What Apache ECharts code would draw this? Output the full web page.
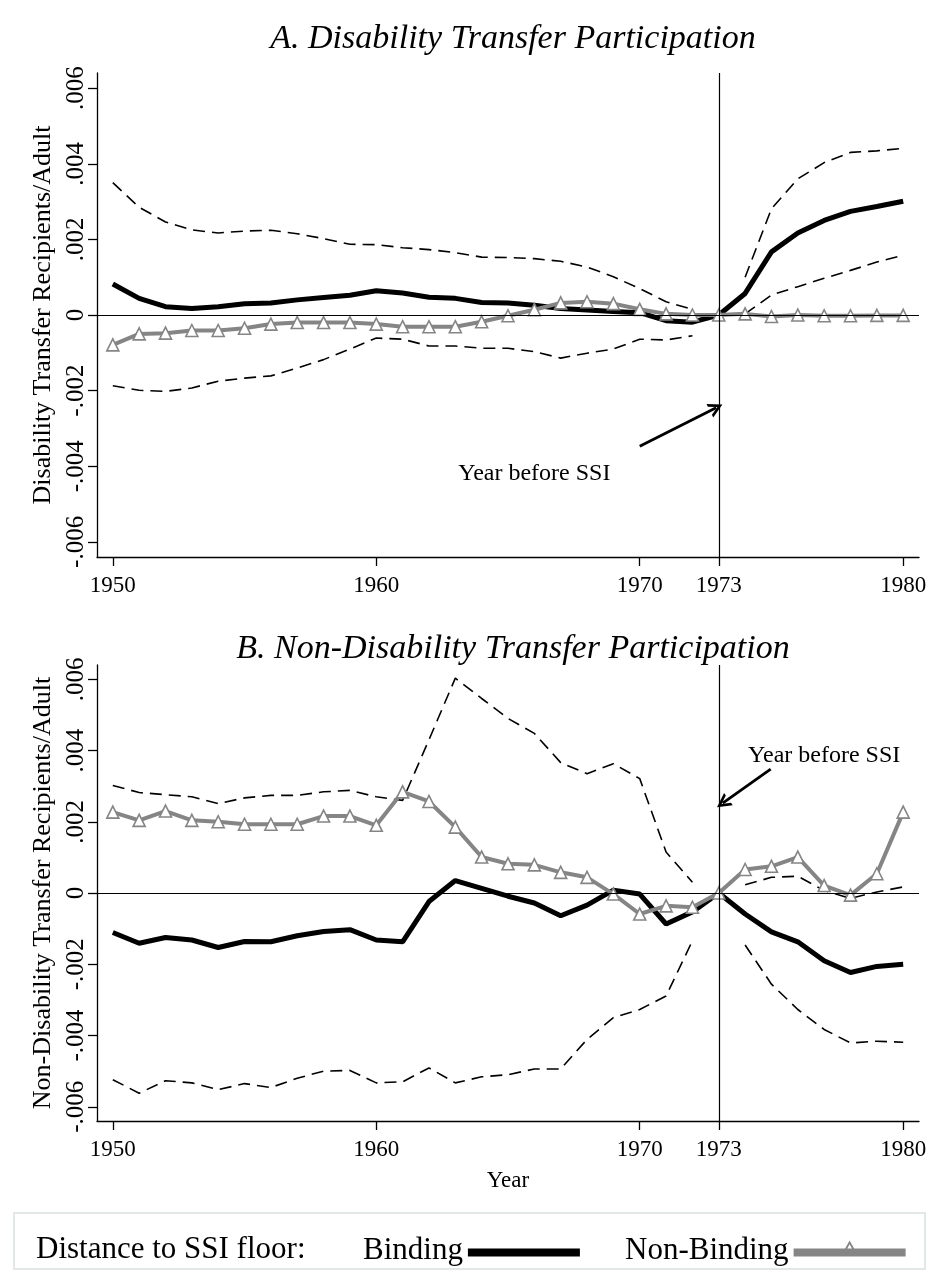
<!DOCTYPE html>
<html>
<head>
<meta charset="utf-8">
<script src="https://cdn.jsdelivr.net/npm/echarts@6/dist/echarts.min.js"></script>
<style>
  html, body { margin: 0; padding: 0; background: #fff; }
  #chart { width: 930px; height: 1270px; }
</style>
</head>
<body>
<div id="chart"></div>
<script>
const years = [1950, 1951, 1952, 1953, 1954, 1955, 1956, 1957, 1958, 1959,
  1960, 1961, 1962, 1963, 1964, 1965, 1966, 1967, 1968, 1969,
  1970, 1971, 1972, 1973, 1974, 1975, 1976, 1977, 1978, 1979, 1980];

const xTicks = [1950, 1960, 1970, 1973, 1980];
const yTicks = [-0.006, -0.004, -0.002, 0, 0.002, 0.004, 0.006];

// Panel A: disability transfer participation
const bindingA = [0.00082, 0.00044, 0.00022, 0.00017, 0.00022, 0.00030, 0.00032, 0.00040, 0.00046, 0.00052,
  0.00064, 0.00058, 0.00047, 0.00044, 0.00033, 0.00032, 0.00026, 0.00017, 0.00013, 0.00009,
  0.00006, -0.00015, -0.00019, 0, 0.00057, 0.00167, 0.00217, 0.00250, 0.00274, 0.00287, 0.00301];
const nonBindingA = [-0.00079, -0.00050, -0.00048, -0.00041, -0.00041, -0.00035, -0.00024, -0.00020, -0.00020, -0.00020,
  -0.00024, -0.00031, -0.00031, -0.00031, -0.00018, -0.00002, 0.00014, 0.00032, 0.00035, 0.00030,
  0.00015, 0.00003, 0.00000, 0, 0.00003, -0.00004, 0.00000, -0.00002, -0.00002, -0.00001, -0.00001];
const upperA = [0.00350, 0.00285, 0.00246, 0.00225, 0.00217, 0.00222, 0.00224, 0.00215, 0.00202, 0.00187,
  0.00186, 0.00178, 0.00173, 0.00165, 0.00153, 0.00152, 0.00149, 0.00142, 0.00127, 0.00101,
  0.00070, 0.00035, 0.00015, null, 0.00100, 0.00281, 0.00360, 0.00403, 0.00430, 0.00434, 0.00441];
const lowerA = [-0.00187, -0.00199, -0.00202, -0.00193, -0.00175, -0.00167, -0.00161, -0.00140, -0.00118, -0.00090,
  -0.00061, -0.00064, -0.00082, -0.00082, -0.00088, -0.00088, -0.00097, -0.00114, -0.00101, -0.00090,
  -0.00064, -0.00066, -0.00055, null, 0.00003, 0.00053, 0.00075, 0.00097, 0.00118, 0.00140, 0.00158];

// Panel B: non-disability transfer participation
const bindingB = [-0.00111, -0.00141, -0.00125, -0.00132, -0.00153, -0.00136, -0.00137, -0.00120, -0.00108, -0.00103,
  -0.00132, -0.00137, -0.00024, 0.00035, 0.00013, -0.00009, -0.00028, -0.00064, -0.00034, 0.00008,
  -0.00003, -0.00087, -0.00053, 0, -0.00059, -0.00109, -0.00137, -0.00190, -0.00223, -0.00206, -0.00200];
const nonBindingB = [0.00227, 0.00204, 0.00230, 0.00204, 0.00200, 0.00193, 0.00193, 0.00193, 0.00216, 0.00216,
  0.00190, 0.00284, 0.00257, 0.00185, 0.00101, 0.00082, 0.00079, 0.00058, 0.00044, -0.00003,
  -0.00059, -0.00036, -0.00040, 0, 0.00066, 0.00075, 0.00101, 0.00021, -0.00006, 0.00054, 0.00227];
const upperB = [0.00302, 0.00282, 0.00276, 0.00270, 0.00251, 0.00267, 0.00274, 0.00274, 0.00284, 0.00288,
  0.00270, 0.00260, 0.00430, 0.00603, 0.00546, 0.00490, 0.00448, 0.00366, 0.00335, 0.00363,
  0.00321, 0.00115, 0.00030, null, 0.00023, 0.00044, 0.00047, 0.00007, -0.00015, 0.00003, 0.00017];
const lowerB = [-0.00524, -0.00562, -0.00527, -0.00533, -0.00552, -0.00535, -0.00546, -0.00520, -0.00500, -0.00498,
  -0.00533, -0.00530, -0.00491, -0.00533, -0.00516, -0.00510, -0.00494, -0.00494, -0.00411, -0.00350,
  -0.00327, -0.00289, -0.00134, null, -0.00146, -0.00256, -0.00327, -0.00383, -0.00421, -0.00416, -0.00419];

const FONT = "'Liberation Serif', 'Times New Roman', serif";
const GRAY = "#858585";
const chevron = "path://M0,10 L5,0 L10,10 L8,10 L5,4 L2,10 Z";
// legend keys: thick bar, and thick bar with a hollow triangle on it
const barIcon = "path://M0,0 L0,0 M0,8 L112,8 L112,16 L0,16 Z M0,20 L0,20";
const barTriIcon = "path://M0,0 L0,0 M0,8 L112,8 L112,16 L0,16 Z M56,0 L65,16 L47,16 Z M56,3.8 L50.3,14.2 L61.7,14.2 Z M0,20 L0,20";

const pairs = (vals) => years.map((y, i) => [y, vals[i]]);

const fmtY = (v) => {
  if (Math.abs(v) < 1e-9) return "0";
  return (v < 0 ? "-" : "") + Math.abs(v).toFixed(3).replace(/^0/, "");
};

function xAxis(idx, name) {
  return {
    type: "value",
    gridIndex: idx,
    min: 1949.4,
    max: 1980.6,
    name: name,
    nameLocation: "middle",
    nameGap: 48,
    nameTextStyle: { fontFamily: FONT, fontSize: 23, color: "#000" },
    splitLine: { show: false },
    axisLine: { onZero: false, lineStyle: { color: "#000", width: 1.3 } },
    axisTick: { customValues: xTicks, length: 9, lineStyle: { color: "#000", width: 1.3 } },
    axisLabel: {
      customValues: xTicks, fontFamily: FONT, fontSize: 23, color: "#000", margin: 17,
      formatter: (v) => String(v),
    },
  };
}

function yAxis(idx, name) {
  return {
    type: "value",
    gridIndex: idx,
    min: -0.0064,
    max: 0.0064,
    name: name,
    nameLocation: "middle",
    nameGap: 41,
    nameRotate: 90,
    nameTextStyle: { fontFamily: FONT, fontSize: 26, color: "#000" },
    splitLine: { show: false },
    axisLine: { show: true, onZero: false, lineStyle: { color: "#000", width: 1.3 } },
    axisTick: { show: true, customValues: yTicks, length: 9, lineStyle: { color: "#000", width: 1.3 } },
    axisLabel: { customValues: yTicks, rotate: 90, fontFamily: FONT, fontSize: 25, color: "#000", margin: 8, formatter: fmtY },
  };
}

function ciSeries(idx, vals) {
  return {
    type: "line",
    xAxisIndex: idx,
    yAxisIndex: idx,
    data: pairs(vals),
    symbol: "none",
    silent: true,
    z: 2,
    lineStyle: { color: "#000", width: 1.6, type: [12, 7] },
  };
}

function annotation(textAt, from, to) {
  return {
    markLine: {
      silent: true,
      symbol: "none",
      label: { show: false },
      lineStyle: { color: "#000", width: 1.2, type: "solid" },
      data: [
        { yAxis: 0 },
        { xAxis: 1973 },
        [
          { coord: from, symbol: "none", lineStyle: { width: 2.8 } },
          { coord: to, symbol: chevron, symbolSize: [15, 14], lineStyle: { width: 2.8 } },
        ],
      ],
    },
    markPoint: {
      silent: true,
      symbol: "circle",
      symbolSize: 1,
      itemStyle: { color: "rgba(0,0,0,0)" },
      label: {
        show: true,
        position: "inside",
        formatter: "Year before SSI",
        fontFamily: FONT,
        fontSize: 24,
        color: "#000",
      },
      data: [{ coord: textAt }],
    },
  };
}

function bindingSeries(idx, vals, ann) {
  return Object.assign({
    name: "Binding",
    type: "line",
    xAxisIndex: idx,
    yAxisIndex: idx,
    data: pairs(vals),
    symbol: "none",
    color: "#000",
    z: 3,
    lineStyle: { color: "#000", width: 5 },
  }, ann);
}

function nonBindingSeries(idx, vals) {
  return {
    name: "Non-Binding",
    type: "line",
    xAxisIndex: idx,
    yAxisIndex: idx,
    data: pairs(vals),
    symbol: "triangle",
    symbolSize: 12,
    color: GRAY,
    z: 4,
    lineStyle: { color: GRAY, width: 4 },
    itemStyle: { color: "#fff", borderColor: GRAY, borderWidth: 1.6 },
  };
}

function legendFor(item, left) {
  return {
    data: [item],
    left: left,
    top: 1230,
    align: "right",
    itemWidth: 112,
    itemHeight: 20,
    textStyle: { fontFamily: FONT, fontSize: 31, color: "#000" },
    inactiveColor: "#ccc",
  };
}

const chart = echarts.init(document.getElementById("chart"));
chart.setOption({
  backgroundColor: "#fff",
  animation: false,
  title: [
    {
      text: "A. Disability Transfer Participation",
      left: 508,
      top: 17,
      textAlign: "center",
      textStyle: { fontFamily: FONT, fontStyle: "italic", fontWeight: "normal", fontSize: 34, color: "#000" },
    },
    {
      text: "B. Non-Disability Transfer Participation",
      left: 508,
      top: 627,
      textAlign: "center",
      textStyle: { fontFamily: FONT, fontStyle: "italic", fontWeight: "normal", fontSize: 34, color: "#000" },
    },
  ],
  grid: [
    { left: 97, top: 73, width: 822, height: 484 },
    { left: 97, top: 665, width: 822, height: 456 },
  ],
  xAxis: [xAxis(0, ""), xAxis(1, "Year")],
  yAxis: [
    yAxis(0, "Disability Transfer Recipients/Adult"),
    yAxis(1, "Non-Disability Transfer Recipients/Adult"),
  ],
  legend: [
    legendFor({ name: "Binding", icon: barIcon, itemStyle: { color: "#000", borderWidth: 0 } }, 358),
    legendFor({ name: "Non-Binding", icon: barTriIcon, itemStyle: { color: GRAY, borderWidth: 0 } }, 620),
  ],
  graphic: [
    {
      type: "rect",
      shape: { x: 14, y: 1213, width: 911, height: 56 },
      style: { fill: "none", stroke: "#e2e8e8", lineWidth: 2 },
    },
    {
      type: "text",
      x: 36,
      y: 1250,
      style: { text: "Distance to SSI floor:", font: "31px " + FONT, fill: "#000", verticalAlign: "middle" },
    },
  ],
  series: [
    ciSeries(0, upperA),
    ciSeries(0, lowerA),
    bindingSeries(0, bindingA, annotation([1966.0, -0.0042], [1970.0, -0.00347], [1972.9, -0.00245])),
    nonBindingSeries(0, nonBindingA),
    ciSeries(1, upperB),
    ciSeries(1, lowerB),
    bindingSeries(1, bindingB, annotation([1977.0, 0.00384], [1974.97, 0.00348], [1973.15, 0.00252])),
    nonBindingSeries(1, nonBindingB),
  ],
});
</script>
</body>
</html>
